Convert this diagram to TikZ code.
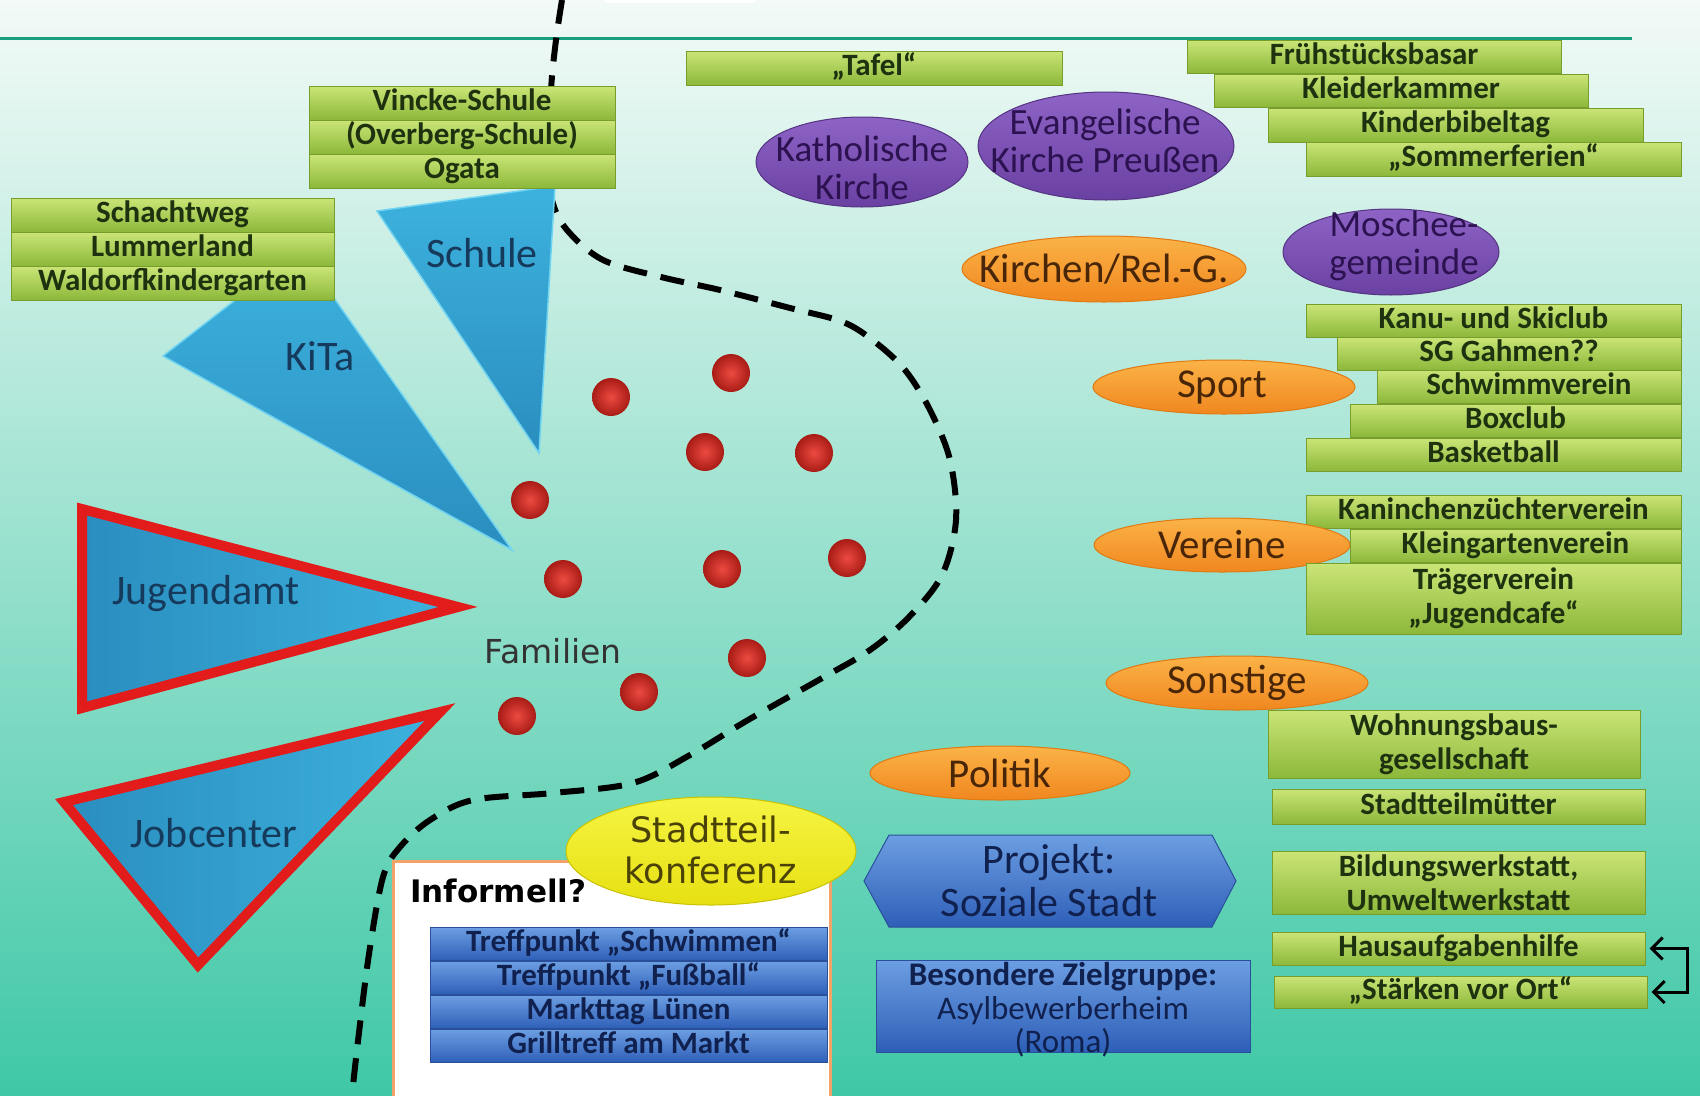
\documentclass[tikz,border=0pt]{standalone}
\usepackage{fontspec}
\setmainfont{Carlito}
\newfontfamily\dejavu{DejaVu Sans}
\usetikzlibrary{shapes.geometric,arrows.meta}
\definecolor{bgtop}{HTML}{F3FAF7}
\definecolor{bgmid}{HTML}{BCE6D7}
\definecolor{bgbot}{HTML}{3FC8A6}
\definecolor{topline}{HTML}{1A9E80}
\definecolor{gtop}{HTML}{CBE577}
\definecolor{gbot}{HTML}{8CB83A}
\definecolor{gborder}{HTML}{779E2C}
\definecolor{gtext}{HTML}{1E3210}
\definecolor{btop}{HTML}{6C9EE2}
\definecolor{bbot}{HTML}{2E5FB8}
\definecolor{bborder}{HTML}{2A4F9A}
\definecolor{btext}{HTML}{10214F}
\definecolor{ttop}{HTML}{3DB2DE}
\definecolor{tbot}{HTML}{2A8EBF}
\definecolor{tedge}{HTML}{6FD3F2}
\definecolor{ttext}{HTML}{163A5C}
\definecolor{redborder}{HTML}{E21B1B}
\definecolor{ptop}{HTML}{8E63C6}
\definecolor{pbot}{HTML}{6A41A3}
\definecolor{ptext}{HTML}{2C1250}
\definecolor{otop}{HTML}{FBB347}
\definecolor{obot}{HTML}{F0871F}
\definecolor{oborder}{HTML}{E07A12}
\definecolor{otext}{HTML}{4A2608}
\definecolor{ytop}{HTML}{F6F443}
\definecolor{ybot}{HTML}{E6E012}
\definecolor{yborder}{HTML}{C9C200}
\definecolor{ytext}{HTML}{4A4206}
\definecolor{dotin}{HTML}{EC4A40}
\definecolor{dotout}{HTML}{A81C16}
\definecolor{frameor}{HTML}{F2A468}
\begin{document}
\begin{tikzpicture}[x=1pt,y=-1pt,
  gbox/.style={draw=gborder, line width=1pt, top color=gtop, bottom color=gbot, inner sep=0pt, text=gtext, font=\fontsize{31}{34}\selectfont\bfseries},
  gline/.style={gbox, text height=21pt, text depth=6pt},
  gmulti/.style={gbox, align=center},
  bstack/.style={draw=bborder, line width=1pt, top color=btop, bottom color=bbot, inner sep=0pt, text=btext, font=\fontsize{31}{34}\selectfont\bfseries, text height=21pt, text depth=6pt, minimum width=397pt, minimum height=33pt},
  ttxt/.style={text=ttext, font=\fontsize{42}{42}\selectfont},
  pell/.style={ellipse, draw=pbot!80!black, line width=1pt, top color=ptop, bottom color=pbot, inner sep=0pt},
  ptxt/.style={text=ptext, font=\fontsize{37}{38}\selectfont, align=center},
  oell/.style={ellipse, draw=oborder, line width=1pt, top color=otop, bottom color=obot, inner sep=0pt},
  otxt/.style={text=otext, font=\fontsize{41}{41}\selectfont},
  famdot/.style={inner color=dotin, outer color=dotout},
  dashline/.style={line width=6pt, dash pattern=on 24pt off 14pt, black}
]
\useasboundingbox (0,0) rectangle (1700,1095);
\shade[top color=bgtop, middle color=bgmid, bottom color=bgbot] (0,0) rectangle (1700,1095);
\fill[white] (605,0) rectangle (755,3);
\draw[topline, line width=3pt] (0,38) -- (1632,38);

% dashed boundary
\draw[dashline] plot[smooth, tension=0.55] coordinates {(562,0) (556,40) (551,90) (549,160) (552,200) (567,230) (603,260) (661,277) (720,290) (790,308) (843,322) (875,342) (905,370) (930,410) (950,460) (956,520) (942,575) (909,617) (870,650) (824,677) (748,720) (690,755) (633,783) (553,793) (473,800) (430,820) (400,847) (383,877) (369,954) (358,1041) (352,1095)};

% triangles
\shadedraw[top color=ttop, bottom color=tbot, draw=tedge, line width=1.5pt] (163,356) -- (300,250) -- (512,550) -- cycle;
\shadedraw[top color=ttop, bottom color=tbot, draw=tedge, line width=1.5pt] (377,211) -- (555,186) -- (539,453) -- cycle;
\shadedraw[left color=tbot, right color=ttop, draw=redborder, line width=10pt, line join=miter] (82,509) -- (82,708) -- (458,607) -- cycle;
\shadedraw[left color=tbot, right color=ttop, draw=redborder, line width=10pt, line join=miter] (64,802) -- (440,712) -- (198,965) -- cycle;
\node[ttxt] (kita) at (320,356) {KiTa};
\node[ttxt] (schule) at (482,253) {Schule};
\node[ttxt] (jugendamt) at (206,594) {Jugendamt};
\node[ttxt] (jobcenter) at (214,833) {Jobcenter};

% school / kita boxes
\node[gline, minimum width=306pt, minimum height=34pt] (vincke) at (462,103) {Vincke-Schule};
\node[gline, minimum width=306pt, minimum height=34pt] (overberg) at (462,137) {(Overberg-Schule)};
\node[gline, minimum width=306pt, minimum height=34pt] (ogata) at (462,171) {Ogata};
\node[gline, minimum width=323pt, minimum height=34pt] (schacht) at (172.5,215) {Schachtweg};
\node[gline, minimum width=323pt, minimum height=34pt] (lummer) at (172.5,249) {Lummerland};
\node[gline, minimum width=323pt, minimum height=34pt] (waldorf) at (172.5,283) {Waldorfkindergarten};

% families
\foreach \px/\py [count=\i] in {611/397, 731/373, 705/452, 814/453, 530/500, 563/579, 722/569, 847/558, 747/658, 639/692, 517/716}
  \shade[famdot] (\px,\py) circle (19pt);
\node[text=black!80, font=\dejavu\fontsize{33}{33}\selectfont] (familien) at (553,651) {Familien};

% churches
\node[gline, minimum width=376pt, minimum height=34pt] (tafel) at (874,68) {„Tafel“};
\node[pell, minimum width=212pt, minimum height=90pt] (kath) at (862,162) {};
\node[ptxt] (kathtxt) at (862,168) {Katholische\\Kirche};
\node[pell, minimum width=256pt, minimum height=108pt] (evang) at (1106,146) {};
\node[ptxt] (evangtxt) at (1105,141) {Evangelische\\Kirche Preußen};
\node[pell, minimum width=216pt, minimum height=86pt] (moschee) at (1391,252) {};
\node[ptxt] (moscheetxt) at (1404,246) {Moschee-\\gemeinde};
\node[gline, minimum width=374pt, minimum height=33pt] (fruehs) at (1374,56.5) {Frühstücksbasar};
\node[gline, minimum width=374pt, minimum height=33pt] (kleider) at (1401,90.5) {Kleiderkammer};
\node[gline, minimum width=375pt, minimum height=34pt] (kinderbibel) at (1455.5,125) {Kinderbibeltag};
\node[gline, minimum width=375pt, minimum height=34pt] (sommer) at (1493.5,159) {„Sommerferien“};
\node[oell, minimum width=284pt, minimum height=66pt] (kirchen) at (1104,269) {};
\node[otxt] (kirchentxt) at (1104,269) {Kirchen/Rel.-G.};

% sport
\node[gline, minimum width=375pt, minimum height=33pt] (kanu) at (1493.5,320.5) {Kanu- und Skiclub};
\node[gline, minimum width=344pt, minimum height=33pt] (sg) at (1509,353.5) {SG Gahmen??};
\node[gline, minimum width=304pt, minimum height=33pt] (schwimm) at (1529,386.5) {Schwimmverein};
\node[gline, minimum width=331pt, minimum height=33pt] (box) at (1515.5,420.5) {Boxclub};
\node[gline, minimum width=375pt, minimum height=33pt] (basket) at (1493.5,454.5) {Basketball};
\node[oell, minimum width=262pt, minimum height=54pt] (sport) at (1224,387) {};
\node[otxt] (sporttxt) at (1222,387) {Sport};

% vereine
\node[gline, minimum width=375pt, minimum height=33pt] (kanin) at (1493.5,511.5) {Kaninchenzüchterverein};
\node[oell, minimum width=256pt, minimum height=54pt] (vereine) at (1222,545) {};
\node[otxt] (vereinetxt) at (1222,545) {Vereine};
\node[gline, minimum width=331pt, minimum height=33pt] (kleing) at (1515.5,545.5) {Kleingartenverein};
\node[gmulti, minimum width=375pt, minimum height=71pt] (traeger) at (1493.5,598.5) {Trägerverein\\„Jugendcafe“};

% sonstige
\node[oell, minimum width=262pt, minimum height=54pt] (sonstige) at (1237,683) {};
\node[otxt] (sonstigetxt) at (1237,683) {Sonstige};
\node[gmulti, minimum width=372pt, minimum height=68pt] (wohnung) at (1454,744) {Wohnungsbaus-\\gesellschaft};
\node[gline, minimum width=373pt, minimum height=35pt] (muetter) at (1458.5,806.5) {Stadtteilmütter};
\node[gmulti, minimum width=373pt, minimum height=63pt] (bildung) at (1458.5,882.5) {Bildungswerkstatt,\\Umweltwerkstatt};
\node[gline, minimum width=373pt, minimum height=33pt] (haus) at (1458.5,948.5) {Hausaufgabenhilfe};
\node[gline, minimum width=373pt, minimum height=32pt] (staerk) at (1460.5,992) {„Stärken vor Ort“};
\draw[line width=3pt, {Straight Barb[length=11pt,width=22pt]}-{Straight Barb[length=11pt,width=22pt]}] ([xshift=4pt]haus.east) -- ++(38,0) |- ([xshift=4pt]staerk.east);

\node[oell, minimum width=260pt, minimum height=54pt] (politik) at (1000,773) {};
\node[otxt] (politiktxt) at (1000,773) {Politik};

% projekt
\shadedraw[top color=btop, bottom color=bbot, draw=bborder, line width=1pt] (864,881) -- (889,835) -- (1212,835) -- (1236,881) -- (1212,927) -- (889,927) -- cycle;
\node[text=btext, font=\fontsize{42}{43}\selectfont, align=center] (projekt) at (1049,881) {Projekt:\\Soziale Stadt};
\node[draw=bborder, line width=1pt, top color=btop, bottom color=bbot, minimum width=374pt, minimum height=92pt, inner sep=0pt] (besondere) at (1063,1006) {};
\node[text=btext, font=\fontsize{33}{33.5}\selectfont, align=center] (besonderetxt) at (1063,1010) {\textbf{Besondere Zielgruppe:}\\Asylbewerberheim\\(Roma)};

% informell
\node[draw=frameor, fill=white, line width=3pt, minimum width=437pt, minimum height=260pt, inner sep=0pt, anchor=north west] (informell) at (392,860) {};
\node[font=\dejavu\fontsize{31}{31}\selectfont\bfseries, anchor=base west, inner sep=0pt] (inftxt) at (410,902) {Informell?};
\node[bstack] (tschwimm) at (628.5,944) {Treffpunkt „Schwimmen“};
\node[bstack] (tfuss) at (628.5,978) {Treffpunkt „Fußball“};
\node[bstack] (markt) at (628.5,1012) {Markttag Lünen};
\node[bstack] (grill) at (628.5,1046) {Grilltreff am Markt};
\node[ellipse, draw=yborder, line width=1pt, top color=ytop, bottom color=ybot, minimum width=290pt, minimum height=108pt, inner sep=0pt] (konferenz) at (711,851) {};
\node[text=ytext, font=\dejavu\fontsize{35}{41}\selectfont, align=center] (konferenztxt) at (711,850) {Stadtteil-\\konferenz};
\end{tikzpicture}
\end{document}
